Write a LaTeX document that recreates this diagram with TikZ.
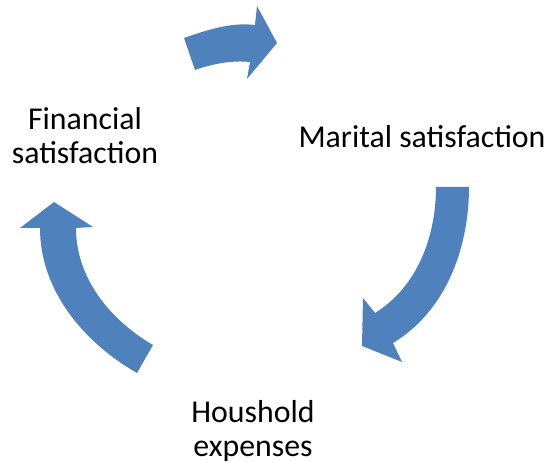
\documentclass[tikz,border=0pt]{standalone}
\usepackage{fontspec}
\setmainfont{Carlito}
\definecolor{arrowcolor}{RGB}{79,129,189}

\begin{document}
\begin{tikzpicture}[x=0.02cm,y=-0.02cm,
    cyclearrow/.style={fill=arrowcolor,draw=none},
    stage/.style={align=center,font=\fontsize{18.1}{19.4}\selectfont,inner sep=0pt}]
  \useasboundingbox (0,0) rectangle (549,463);

  % The three stages
  \node[stage] (fin) at (85,136) {Financial\\satisfaction};
  \node[stage] (mar) at (422,137) {Marital satisfaction};
  \node[stage] (exp) at (253,431) {Houshold\\expenses};

  % Arrow from financial to marital satisfaction
  \fill[cyclearrow] (184,38) .. controls (207,30) and (231,22) .. (255,25)
    -- (257,6) -- (277,43) -- (247,79) -- (250,62)
    .. controls (232,60) and (212,64) .. (195,70) -- cycle;

  % Arrow from marital satisfaction to household expenses
  \fill[cyclearrow] (436,187) -- (469,187)
    .. controls (469,248) and (446,311) .. (393,343)
    -- (402,362) -- (362,346) -- (363,298) -- (375,313)
    .. controls (417,287) and (436,237) .. (436,187) -- cycle;

  % Arrow from household expenses back to financial satisfaction
  \fill[cyclearrow] (137,373) .. controls (83,342) and (40,290) .. (40,228)
    -- (20,228) -- (54,202) -- (93,227) -- (76,228)
    .. controls (76,278) and (110,320) .. (153,345) -- cycle;

\end{tikzpicture}
\end{document}
